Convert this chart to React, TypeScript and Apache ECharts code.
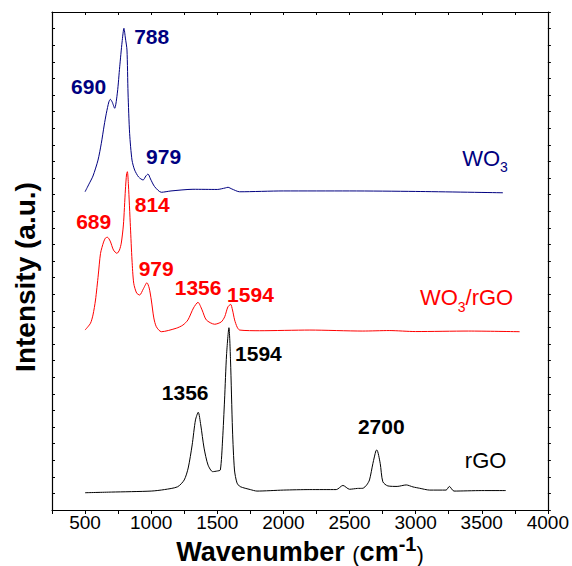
import React, { useEffect, useRef } from "react";
import * as echarts from "echarts";

// ---- WO3 (blue) ----
const wo3Wavenumber = [500, 530, 560, 598, 623, 645, 661, 680, 691, 705, 724, 745, 762, 780, 794, 805, 817, 825, 837, 855, 875, 905, 939, 960, 976, 995, 1026, 1077, 1150, 1316, 1500, 1560, 1581, 1610, 1669, 2000, 2500, 3000, 3660];
const wo3Intensity = [19.17, 19.64, 20.12, 21.08, 22.09, 23.19, 23.9, 24.58, 24.74, 24.58, 24.2, 25.18, 26.7, 28.19, 29.02, 28.43, 27.71, 25.12, 22.69, 21.08, 20.48, 20.06, 19.88, 20.12, 20.24, 19.94, 19.48, 19.14, 19.22, 19.32, 19.31, 19.4, 19.44, 19.34, 19.17, 19.22, 19.22, 19.19, 19.11];

// ---- WO3/rGO (red) ----
const compWavenumber = [500, 541, 560, 579, 600, 617, 640, 655, 669, 690, 715, 741, 760, 774, 790, 805, 814, 820, 828, 843, 855, 868, 890, 913, 940, 968, 985, 1001, 1020, 1039, 1077, 1190, 1240, 1278, 1320, 1354, 1385, 1417, 1480, 1530, 1556, 1580, 1601, 1615, 1631, 1650, 1669, 1820, 2200, 2600, 2800, 3000, 3400, 3787];
const compIntensity = [10.84, 11.25, 11.75, 12.65, 14.16, 15.46, 16.14, 16.39, 16.43, 16.2, 15.66, 15.46, 15.66, 16.08, 17.17, 19.28, 20.24, 20.38, 19.58, 17.07, 15.06, 13.66, 13.07, 12.95, 13.31, 13.69, 13.37, 12.65, 11.57, 11.04, 10.74, 10.95, 11.14, 11.45, 12.17, 12.51, 12.05, 11.45, 11.19, 11.33, 11.64, 12.23, 12.39, 12.05, 11.45, 11.02, 10.84, 10.8, 10.84, 10.78, 10.81, 10.75, 10.78, 10.74];

// ---- rGO (black) ----
const rgoWavenumber = [500, 700, 1000, 1100, 1200, 1250, 1280, 1310, 1335, 1356, 1375, 1400, 1430, 1465, 1500, 1523, 1540, 1555, 1570, 1588, 1600, 1615, 1630, 1649, 1673, 1750, 1800, 2000, 2200, 2400, 2450, 2500, 2560, 2601, 2630, 2651, 2677, 2700, 2707, 2732, 2752, 2790, 2860, 2929, 2980, 3030, 3106, 3230, 3255, 3290, 3500, 3681];
const rgoIntensity = [1.04, 1.08, 1.14, 1.23, 1.4, 1.81, 2.53, 3.92, 5.42, 5.89, 5.12, 3.73, 2.71, 2.31, 2.35, 2.41, 4.22, 6.63, 9.34, 10.98, 9.04, 4.82, 2.41, 1.63, 1.41, 1.23, 1.14, 1.2, 1.23, 1.23, 1.48, 1.25, 1.3, 1.31, 1.51, 1.81, 2.81, 3.58, 3.61, 2.81, 1.7, 1.45, 1.42, 1.51, 1.39, 1.31, 1.2, 1.2, 1.42, 1.14, 1.17, 1.17];

// ---- peak annotations ----
const wo3PeakText = ["690", "788", "979"];
const wo3PeakX = [527, 1004, 1094];
const wo3PeakY = [25.54, 28.55, 21.27];

const compPeakText = ["689", "814", "979", "1356", "1594"];
const compPeakX = [565, 1008, 1038, 1355, 1751];
const compPeakY = [17.35, 18.43, 14.52, 13.4, 13.01];

const rgoPeakText = ["1356", "1594", "2700"];
const rgoPeakX = [1257, 1811, 2740];
const rgoPeakY = [7.05, 9.4, 5.06];

// ---- curve names ----
const curveNames = ["{n|WO}{s|3}", "{n|WO}{s|3}{n|/rGO}", "{n|rGO}"];
const curveNameX = [3525, 3385, 3529];
const curveNameY = [21.2, 12.8, 3.01];
const curveNameColor = ["#000080", "#ff0000", "#000000"];

const xTicks = [500, 1000, 1500, 2000, 2500, 3000, 3500, 4000];

const FONT = "'Liberation Sans', Arial, Helvetica, sans-serif";
const BLUE = "#000080";
const RED = "#ff0000";

function zip(xs: number[], ys: number[]) {
  return xs.map((x, i) => [x, ys[i]]);
}

function peakSeries(xs: number[], ys: number[], texts: string[], color: string) {
  return {
    type: "scatter",
    symbol: "circle",
    symbolSize: 1,
    itemStyle: { color: "rgba(0,0,0,0)", opacity: 1 },
    silent: true,
    z: 5,
    data: xs.map((x, i) => ({ value: [x, ys[i]], name: texts[i] })),
    label: {
      show: true,
      position: "inside",
      formatter: (p: any) => p.name,
      color,
      opacity: 1,
      fontSize: 21,
      fontWeight: "bold",
      fontFamily: FONT,
    },
  };
}

export default function App() {
  const ref = useRef<HTMLDivElement>(null);
  useEffect(() => {
    if (!ref.current) return;
    const chart = echarts.init(ref.current, null, { renderer: "svg" });
    const axisLine = { show: true, onZero: false, lineStyle: { color: "#000", width: 1.2 } };
    const lineCommon = { type: "line", showSymbol: false, smooth: 0.25, silent: true };
    const option: any = {
      animation: false,
      backgroundColor: "#fff",
      grid: { left: 52, right: 24, top: 12, bottom: 56, containLabel: false },
      xAxis: [
        {
          type: "value",
          position: "bottom",
          min: 250,
          max: 4000,
          interval: 250,
          axisLine,
          axisTick: { show: true, inside: false, length: 4, lineStyle: { color: "#000" } },
          axisLabel: {
            show: true,
            margin: 5,
            color: "#000",
            fontSize: 19,
            lineHeight: 14,
            fontFamily: FONT,
            formatter: (v: number) => (xTicks.indexOf(v) >= 0 ? String(v) : ""),
          },
          splitLine: { show: false },
        },
        {
          type: "value",
          position: "top",
          min: 250,
          max: 4000,
          interval: 250,
          axisLine,
          axisTick: { show: true, inside: true, length: 3, lineStyle: { color: "#000" } },
          axisLabel: { show: false },
          splitLine: { show: false },
        },
      ],
      yAxis: [
        {
          type: "value",
          position: "left",
          min: 0,
          max: 30,
          interval: 1,
          axisLine,
          axisTick: { show: true, inside: true, length: 3, lineStyle: { color: "#000" } },
          axisLabel: { show: false },
          splitLine: { show: false },
        },
        {
          type: "value",
          position: "right",
          min: 0,
          max: 30,
          interval: 1,
          axisLine,
          axisTick: { show: true, inside: false, length: 3, lineStyle: { color: "#000" } },
          axisLabel: { show: false },
          splitLine: { show: false },
        },
      ],
      series: [
        {
          ...lineCommon,
          name: "WO3",
          data: zip(wo3Wavenumber, wo3Intensity),
          lineStyle: { color: BLUE, width: 1 },
        },
        {
          ...lineCommon,
          name: "WO3/rGO",
          data: zip(compWavenumber, compIntensity),
          lineStyle: { color: RED, width: 1 },
        },
        {
          ...lineCommon,
          name: "rGO",
          data: zip(rgoWavenumber, rgoIntensity),
          lineStyle: { color: "#000", width: 1 },
        },
        peakSeries(wo3PeakX, wo3PeakY, wo3PeakText, BLUE),
        peakSeries(compPeakX, compPeakY, compPeakText, RED),
        peakSeries(rgoPeakX, rgoPeakY, rgoPeakText, "#000"),
        {
          type: "scatter",
          symbol: "circle",
          symbolSize: 1,
          itemStyle: { color: "rgba(0,0,0,0)", opacity: 1 },
          silent: true,
          z: 5,
          data: curveNameX.map((x, i) => ({
            value: [x, curveNameY[i]],
            name: curveNames[i],
            label: {
              rich: {
                n: { fontSize: 22, lineHeight: 22, color: curveNameColor[i], fontFamily: FONT, verticalAlign: "top" },
                s: { fontSize: 14, lineHeight: 14, padding: [13, 0, 0, 0], color: curveNameColor[i], fontFamily: FONT, verticalAlign: "top" },
              },
            },
          })),
          label: {
            show: true,
            position: "inside",
            opacity: 1,
            formatter: (p: any) => p.name,
          },
        },
      ],
      graphic: [
        {
          type: "text",
          x: 300,
          y: 552,
          silent: true,
          style: {
            text: "{b|Wavenumber }{p|(}{b|cm}{u|-1}{p|)}",
            textAlign: "center",
            textVerticalAlign: "middle",
            rich: {
              b: { fontSize: 27, fontWeight: "bold", fontFamily: FONT, fill: "#000", lineHeight: 26, verticalAlign: "bottom" },
              p: { fontSize: 22, fontFamily: FONT, fill: "#000", lineHeight: 26, verticalAlign: "bottom" },
              u: { fontSize: 20, fontWeight: "bold", fontFamily: FONT, fill: "#000", lineHeight: 14, padding: [0, 0, 11, 0], verticalAlign: "bottom" },
            },
          },
        },
        {
          type: "text",
          x: 25,
          y: 277,
          rotation: Math.PI / 2,
          silent: true,
          style: {
            text: "Intensity (a.u.)",
            textAlign: "center",
            textVerticalAlign: "middle",
            fontSize: 28,
            fontWeight: "bold",
            fontFamily: FONT,
            fill: "#000",
          },
        },
      ],
    };
    chart.setOption(option);
    return () => chart.dispose();
  }, []);
  return (
    <div
      ref={ref}
      style={{ position: "absolute", left: 0, top: 0, width: 572, height: 566, background: "#fff" }}
    />
  );
}
